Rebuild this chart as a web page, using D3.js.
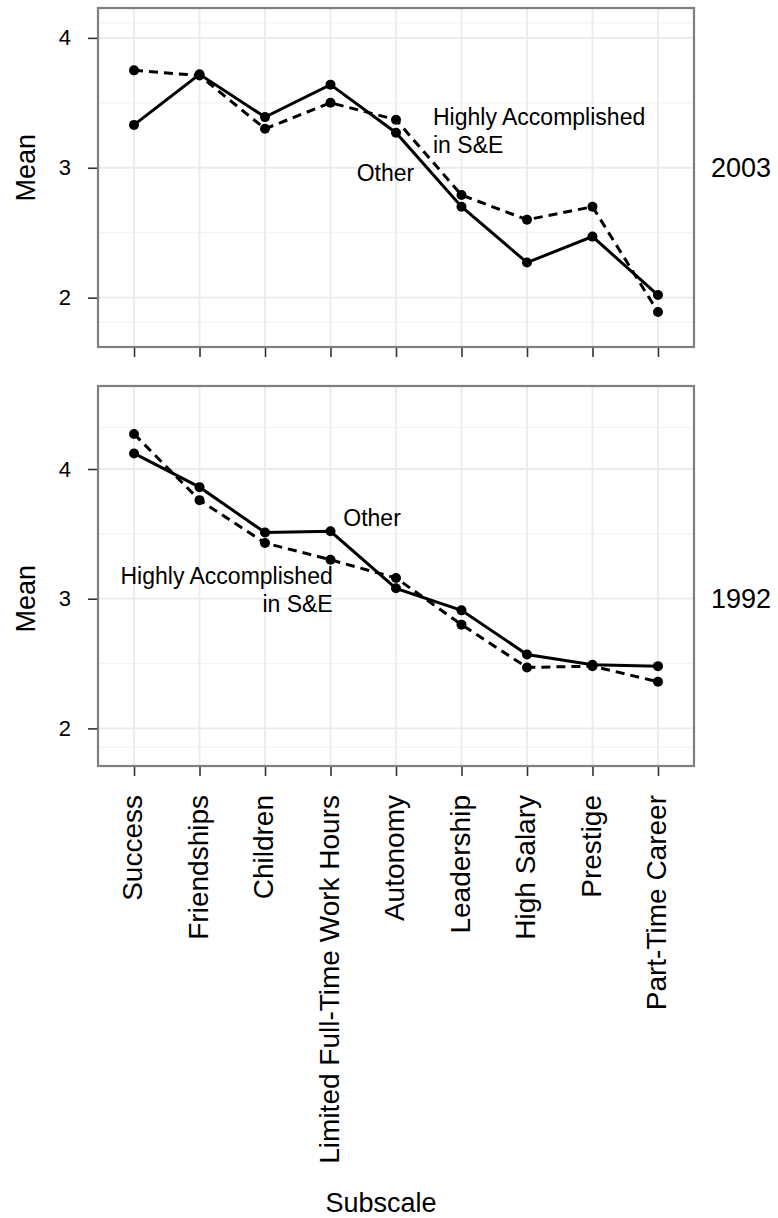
<!DOCTYPE html>
<html>
<head>
<meta charset="utf-8">
<script src="https://cdn.jsdelivr.net/npm/d3@7"></script>
<style>
  body { margin: 0; background: #fff; }
  svg text { font-family: "Liberation Sans", Arial, Helvetica, sans-serif; fill: #000; }
</style>
</head>
<body>
<svg id="chart" width="778" height="1218"></svg>
<script>
// subscales along the x axis
const categories = ['Success', 'Friendships', 'Children', 'Limited Full-Time Work Hours',
  'Autonomy', 'Leadership', 'High Salary', 'Prestige', 'Part-Time Career']

// means
const other2003 = [3.33, 3.72, 3.39, 3.64, 3.27, 2.70, 2.27, 2.47, 2.02]
const accomplished2003 = [3.75, 3.71, 3.30, 3.50, 3.37, 2.79, 2.60, 2.70, 1.89]
const other1992 = [4.12, 3.86, 3.51, 3.52, 3.08, 2.91, 2.57, 2.49, 2.48]
const accomplished1992 = [4.27, 3.76, 3.43, 3.30, 3.16, 2.80, 2.47, 2.48, 2.36]

const yTicks = [2, 3, 4]

const svg = d3.select('#chart')
const left = 98, right = 694

const x = d3.scalePoint()
  .domain(categories)
  .range([left, right])
  .padding(0.55)

const step = x.step()
// fractional category position, used for the text labels
const xAt = i => x(categories[0]) + i * step

function drawPanel(p) {
  const y = d3.scaleLinear().domain(p.domain).range([p.bottom, p.top])
  const g = svg.append('g')

  // minor grid, ggplot style: midpoints between breaks and limits
  const b = [p.domain[0], ...yTicks, p.domain[1]]
  const minor = d3.pairs(b).map(([a, c]) => (a + c) / 2)
  g.selectAll('.minor').data(minor).enter().append('line')
    .attr('x1', left).attr('x2', right)
    .attr('y1', d => y(d)).attr('y2', d => y(d))
    .attr('stroke', '#f3f3f3').attr('stroke-width', 1.2)

  g.selectAll('.hgrid').data(yTicks).enter().append('line')
    .attr('x1', left).attr('x2', right)
    .attr('y1', d => y(d)).attr('y2', d => y(d))
    .attr('stroke', '#ebebeb').attr('stroke-width', 1.8)

  g.selectAll('.vgrid').data(categories).enter().append('line')
    .attr('x1', d => x(d)).attr('x2', d => x(d))
    .attr('y1', p.top).attr('y2', p.bottom)
    .attr('stroke', '#ebebeb').attr('stroke-width', 1.8)

  const line = d3.line()
    .x((d, i) => x(categories[i]))
    .y(d => y(d))

  const series = [
    {values: p.other, dash: null},
    {values: p.accomplished, dash: '9,6'}
  ]
  for (const s of series) {
    g.append('path')
      .attr('d', line(s.values))
      .attr('fill', 'none')
      .attr('stroke', '#000')
      .attr('stroke-width', 3)
      .attr('stroke-dasharray', s.dash)
    g.selectAll(null).data(s.values).enter().append('circle')
      .attr('cx', (d, i) => x(categories[i]))
      .attr('cy', d => y(d))
      .attr('r', 5)
      .attr('fill', '#000')
  }

  // panel border
  g.append('rect')
    .attr('x', left).attr('y', p.top)
    .attr('width', right - left).attr('height', p.bottom - p.top)
    .attr('fill', 'none').attr('stroke', '#7f7f7f').attr('stroke-width', 2.2)

  // axes
  const yAxis = g.append('g')
    .attr('transform', `translate(${left - 1},0)`)
    .call(d3.axisLeft(y).tickValues(yTicks).tickSize(9).tickPadding(17).tickFormat(d3.format('d')))
  yAxis.select('.domain').remove()
  yAxis.selectAll('line').attr('stroke', '#333').attr('stroke-width', 1.6)
  yAxis.selectAll('text').attr('font-size', 22).attr('fill', '#000')

  const xAxis = g.append('g')
    .attr('transform', `translate(0,${p.bottom + 1})`)
    .call(d3.axisBottom(x).tickSize(9).tickFormat(p.showLabels ? d => d : ''))
  xAxis.select('.domain').remove()
  xAxis.selectAll('line').attr('stroke', '#333').attr('stroke-width', 1.6)
  if (p.showLabels) {
    xAxis.selectAll('text')
      .attr('font-size', 28)
      .attr('text-anchor', 'end')
      .attr('transform', 'rotate(-90)')
      .attr('x', -28)
      .attr('y', 0)
      .attr('dy', '0.28em')
      .attr('fill', '#000')
  }

  // y title and facet label
  g.append('text')
    .attr('transform', `translate(35,${y(3)}) rotate(-90)`)
    .attr('text-anchor', 'middle')
    .attr('font-size', 27)
    .text('Mean')

  g.append('text')
    .attr('x', 711).attr('y', y(3)).attr('dy', '0.35em')
    .attr('font-size', 27)
    .text(p.year)

  // series labels
  for (const lab of p.labels) {
    const t = g.append('text')
      .attr('font-size', 23)
      .attr('text-anchor', lab.anchor)
    lab.lines.forEach((txt, k) => {
      t.append('tspan')
        .attr('x', xAt(lab.xi))
        .attr('y', y(lab.yv) + k * 28)
        .attr('dy', '0.35em')
        .text(txt)
    })
  }
}

drawPanel({
  year: '2003', top: 8, bottom: 347, domain: [1.62, 4.23],
  other: other2003, accomplished: accomplished2003, showLabels: false,
  labels: [
    {lines: ['Other'], xi: 3.40, yv: 2.957, anchor: 'start'},
    {lines: ['Highly Accomplished', 'in S&E'], xi: 4.565, yv: 3.39, anchor: 'start'}
  ]
})

drawPanel({
  year: '1992', top: 386, bottom: 766, domain: [1.71, 4.64],
  other: other1992, accomplished: accomplished1992, showLabels: true,
  labels: [
    {lines: ['Other'], xi: 3.195, yv: 3.62, anchor: 'start'},
    {lines: ['Highly Accomplished', 'in S&E'], xi: 3.034, yv: 3.175, anchor: 'end'}
  ]
})

svg.append('text')
  .attr('x', 381).attr('y', 1212)
  .attr('text-anchor', 'middle')
  .attr('font-size', 27)
  .text('Subscale')
</script>
</body>
</html>
